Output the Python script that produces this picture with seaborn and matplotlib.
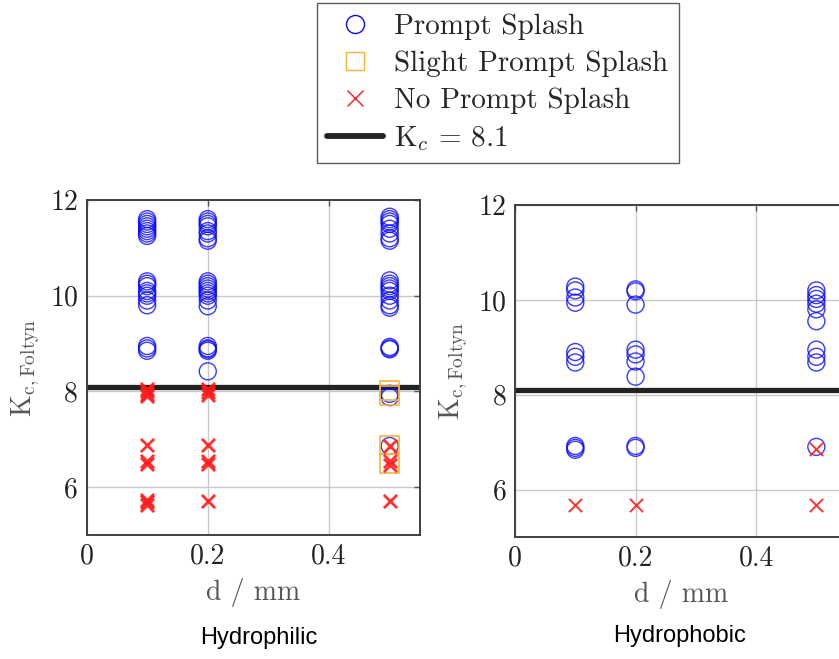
import matplotlib
matplotlib.use("Agg")
import matplotlib.pyplot as plt
import seaborn as sns
import numpy as np
from matplotlib.lines import Line2D

sns.set_style("white")
plt.rcParams["font.family"] = ["cmr10", "DejaVu Serif"]
plt.rcParams["mathtext.fontset"] = "cm"
plt.rcParams["axes.formatter.use_mathtext"] = True

# ---------------- data ----------------
# Hydrophilic
phil_prompt_d = [0.1]*8 + [0.1]*8 + [0.1]*3 + [0.2]*8 + [0.2]*9 + [0.2]*4 + [0.2] + [0.5]*8 + [0.5]*9 + [0.5]*3 + [0.5]*2 + [0.5]
phil_prompt_k = [11.6, 11.55, 11.5, 11.45, 11.4, 11.35, 11.3, 11.25,
                 10.3, 10.25, 10.2, 10.1, 10.05, 10.0, 9.9, 9.8,
                 8.95, 8.9, 8.85,
                 11.6, 11.55, 11.5, 11.45, 11.35, 11.3, 11.2, 11.15,
                 10.3, 10.25, 10.2, 10.15, 10.1, 10.05, 10.0, 9.9, 9.78,
                 8.95, 8.9, 8.88, 8.85,
                 8.42,
                 11.65, 11.6, 11.55, 11.5, 11.4, 11.3, 11.2, 11.15,
                 10.32, 10.25, 10.2, 10.15, 10.1, 10.0, 9.9, 9.8, 9.75,
                 8.93, 8.9, 8.88,
                 7.95, 7.88,
                 6.86]
phil_slight_d = [0.5, 0.5, 0.5, 0.5]
phil_slight_k = [8.02, 7.92, 6.88, 6.5]
phil_none_d = [0.1]*4 + [0.1] + [0.1]*2 + [0.1]*3 + [0.2]*3 + [0.2] + [0.2]*2 + [0.2] + [0.5] + [0.5]*2 + [0.5]
phil_none_k = [8.05, 8.0, 7.95, 7.9, 6.88, 6.55, 6.48, 5.74, 5.68, 5.62,
               8.05, 7.98, 7.92, 6.88, 6.55, 6.48, 5.7,
               6.86, 6.55, 6.46, 5.7]

# Hydrophobic
phob_prompt_d = [0.1]*4 + [0.1]*3 + [0.1]*3 + [0.2]*3 + [0.2]*4 + [0.2]*2 + [0.5]*6 + [0.5]*3 + [0.5]
phob_prompt_k = [10.28, 10.2, 10.05, 9.94,
                 8.9, 8.8, 8.68,
                 6.92, 6.88, 6.84,
                 10.22, 10.18, 9.9,
                 8.95, 8.85, 8.7, 8.38,
                 6.92, 6.88,
                 10.2, 10.1, 10.02, 9.92, 9.8, 9.55,
                 8.95, 8.8, 8.68,
                 6.9]
phob_none_d = [0.1, 0.2, 0.5, 0.5]
phob_none_k = [5.68, 5.68, 5.68, 6.86]

KC = 8.1
xticks = [0, 0.2, 0.4]
yticks = [6, 8, 10, 12]

BLUE = "#0a0aff"
ORANGE = "#f2b33a"
RED = "#ff1a1a"

fig = plt.figure(figsize=(8.39, 6.59), dpi=100)
axL = fig.add_axes([86.5/839, 1-535/659, 333.5/839, 335/659])
axR = fig.add_axes([515/839, 1-537/659, 331.5/839, 332/659])


def style_axes(ax):
    ax.set_xlim(0, 0.55)
    ax.set_ylim(5, 12)
    ax.set_xticks(xticks)
    ax.set_yticks(yticks)
    ax.set_xticklabels(["0", "0.2", "0.4"])
    ax.set_yticklabels([str(v) for v in yticks])
    ax.grid(True, color="#c8c8c8", linewidth=1.0, zorder=0)
    ax.set_axisbelow(True)
    for sp in ax.spines.values():
        sp.set_color("#404040")
        sp.set_linewidth(1.4)
    ax.tick_params(direction="in", length=4, width=1, color="#555555",
                   top=True, right=True, labelsize=20, pad=6,
                   labelcolor="#222222")
    ax.set_xlabel("d / mm", fontsize=20, color="#555555", labelpad=6)
    ax.set_ylabel(r"$\mathrm{K}_{\mathrm{c,Foltyn}}$", fontsize=20,
                  color="#555555", labelpad=6)


for ax, pk, pd_, nk, nd, sk, sd, xlw in [
        (axL, phil_prompt_k, phil_prompt_d, phil_none_k, phil_none_d,
         phil_slight_k, phil_slight_d, 2.0),
        (axR, phob_prompt_k, phob_prompt_d, phob_none_k, phob_none_d,
         [], [], 1.4)]:
    style_axes(ax)
    ax.axhline(KC, color="#222222", linewidth=3.8, zorder=2)
    sns.scatterplot(x=pd_, y=pk, ax=ax, marker="o", s=150,
                    facecolors="none", edgecolor=BLUE, linewidth=1.0,
                    alpha=0.8, zorder=3, legend=False)
    if len(sk):
        sns.scatterplot(x=sd, y=sk, ax=ax, marker="s", s=180,
                        facecolors="none", edgecolor=ORANGE, linewidth=1.3,
                        alpha=0.9, zorder=4, legend=False)
    sns.scatterplot(x=nd, y=nk, ax=ax, marker="x", s=90, color=RED,
                    linewidth=xlw, alpha=0.9, zorder=5, legend=False)

fig.text(259/839, 1-638/659, "Hydrophilic", fontsize=17,
         family="Liberation Sans", ha="center", va="center", color="black")
fig.text(680/839, 1-636/659, "Hydrophobic", fontsize=17,
         family="Liberation Sans", ha="center", va="center", color="black")

handles = [
    Line2D([], [], linestyle="none", marker="o", markersize=13,
           markerfacecolor="none", markeredgecolor=BLUE, markeredgewidth=1.0),
    Line2D([], [], linestyle="none", marker="s", markersize=13,
           markerfacecolor="none", markeredgecolor=ORANGE, markeredgewidth=1.0),
    Line2D([], [], linestyle="none", marker="x", markersize=11,
           markeredgecolor=RED, markeredgewidth=1.0),
    Line2D([], [], color="#222222", linewidth=4.2),
]
labels = ["Prompt Splash", "Slight Prompt Splash", "No Prompt Splash",
          r"K$_c$ = 8.1"]
leg = fig.legend(handles, labels, loc="upper center",
                 bbox_to_anchor=(498/839, 1-3/659), fontsize=21,
                 frameon=True, fancybox=False, edgecolor="#333333",
                 handlelength=1.9, handletextpad=0.4, labelspacing=0.36,
                 borderpad=0.35, borderaxespad=0)
leg.get_frame().set_linewidth(1.0)

fig.savefig("out.png", dpi=100)
